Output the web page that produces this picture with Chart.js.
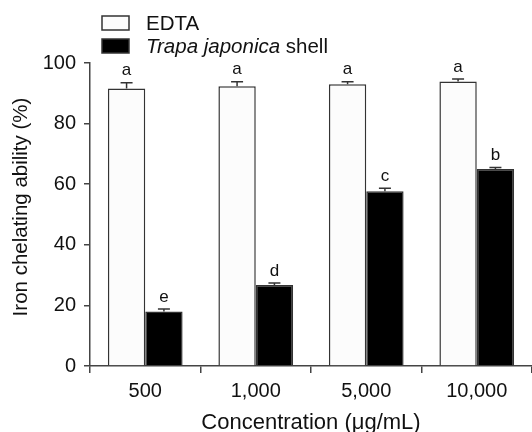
<!DOCTYPE html>
<html>
<head>
<meta charset="utf-8">
<script src="https://cdn.jsdelivr.net/npm/chart.js@4"></script>
<style>
	html, body { margin: 0; padding: 0; background: #fff; overflow: hidden; }
	#wrap { width: 532px; height: 432px; }
</style>
</head>
<body>
<div id="wrap"><canvas id="myChart"></canvas></div>
<script>
const categories = ['500', '1,000', '5,000', '10,000']
const edtaValues = [91.6, 92.3, 93.0, 93.9]
const edtaErrors = [1.9, 1.5, 0.8, 0.8]
const shellValues = [18.0, 26.7, 57.7, 65.0]
const shellErrors = [0.8, 0.7, 1.0, 0.5]
const edtaLetters = ['a', 'a', 'a', 'a']
const shellLetters = ['e', 'd', 'c', 'b']
const yTicks = [0, 20, 40, 60, 80, 100]

const fontFamily = "'Liberation Sans', Arial, sans-serif"
const axisColor = '#444'

// error bars + significance letters
const errorBarPlugin = {
	id: 'errorBars',
	afterDatasetsDraw(chart) {
		const ctx = chart.ctx
		const yScale = chart.scales.y
		const errs = [edtaErrors, shellErrors]
		const letters = [edtaLetters, shellLetters]
		ctx.save()
		chart.data.datasets.forEach(function (ds, i) {
			const meta = chart.getDatasetMeta(i)
			meta.data.forEach(function (bar, j) {
				const top = yScale.getPixelForValue(ds.data[j] + errs[i][j])
				ctx.strokeStyle = '#333'
				ctx.lineWidth = 1.5
				ctx.beginPath()
				ctx.moveTo(bar.x, bar.y)
				ctx.lineTo(bar.x, top)
				ctx.moveTo(bar.x - 6, top)
				ctx.lineTo(bar.x + 6, top)
				ctx.stroke()
				ctx.fillStyle = '#111'
				ctx.font = "17px 'Liberation Sans Narrow', " + fontFamily
				ctx.textAlign = 'center'
				ctx.textBaseline = 'middle'
				ctx.fillText(letters[i][j], bar.x, top - 12)
			})
		})
		ctx.restore()
	},
}

// legend with italic species name, and the y title (sits a bit above centre)
const legendPlugin = {
	id: 'customLegend',
	afterDraw(chart) {
		const ctx = chart.ctx
		ctx.save()
		ctx.lineWidth = 1.5
		ctx.strokeStyle = '#333'
		ctx.fillStyle = '#fcfcfc'
		ctx.fillRect(102, 16, 27, 14)
		ctx.strokeRect(102, 16, 27, 14)
		ctx.fillStyle = '#000'
		ctx.fillRect(102, 39, 27, 14)
		ctx.strokeRect(102, 39, 27, 14)

		ctx.fillStyle = '#111'
		ctx.textBaseline = 'middle'
		ctx.textAlign = 'left'
		ctx.font = '20.5px ' + fontFamily
		ctx.fillText('EDTA', 146, 24)
		ctx.font = 'italic 20.5px ' + fontFamily
		const sp = 'Trapa japonica'
		ctx.fillText(sp, 146, 47)
		const w = ctx.measureText(sp).width
		ctx.font = '20.5px ' + fontFamily
		ctx.fillText(' shell', 146 + w, 47)

		ctx.translate(21, 207)
		ctx.rotate(-Math.PI / 2)
		ctx.textAlign = 'center'
		ctx.font = '20.5px ' + fontFamily
		ctx.fillText('Iron chelating ability (%)', 0, 0)
		ctx.restore()
	},
}

const ctx1 = document.getElementById('myChart')

new Chart(ctx1, {
	type: 'bar',
	data: {
		labels: categories,
		datasets: [
			{
				label: 'EDTA',
				data: edtaValues,
				backgroundColor: '#fcfcfc',
				borderColor: '#333',
				borderWidth: 1.5,
				categoryPercentage: 0.676,
				barPercentage: 1.0,
			},
			{
				label: 'Trapa japonica shell',
				data: shellValues,
				backgroundColor: '#000',
				borderColor: '#333',
				borderWidth: 1.5,
				categoryPercentage: 0.676,
				barPercentage: 1.0,
			},
		],
	},
	options: {
		responsive: true,
		maintainAspectRatio: false,
		animation: false,
		layout: {
			padding: { top: 63, right: 0, bottom: 0, left: 0 },
		},
		scales: {
			x: {
				offset: true,
				grid: {
					offset: true,
					drawOnChartArea: false,
					tickLength: 7,
					color: axisColor,
					lineWidth: 1.5,
				},
				border: { color: axisColor, width: 1.5 },
				ticks: {
					color: '#111',
					padding: 6,
					font: { family: fontFamily, size: 20 },
				},
				title: {
					display: true,
					text: 'Concentration (\u03bcg/mL)',
					color: '#111',
					font: { family: fontFamily, size: 22, lineHeight: 0.82 },
					padding: { top: 0, bottom: 0 },
				},
				afterFit: function (scale) {
					scale.height = 66
				},
			},
			y: {
				min: 0,
				max: 100,
				afterBuildTicks: function (scale) {
					scale.ticks = yTicks.map(function (v) {
						return { value: v }
					})
				},
				grid: {
					drawOnChartArea: false,
					tickLength: 6,
					color: axisColor,
					lineWidth: 1.5,
				},
				border: { color: axisColor, width: 1.5 },
				ticks: {
					color: '#111',
					padding: 8,
					font: { family: fontFamily, size: 20 },
				},
				afterFit: function (scale) {
					scale.width = 90
				},
			},
		},
		plugins: {
			legend: { display: false },
			tooltip: { enabled: false },
		},
	},
	plugins: [errorBarPlugin, legendPlugin],
})
</script>
</body>
</html>
